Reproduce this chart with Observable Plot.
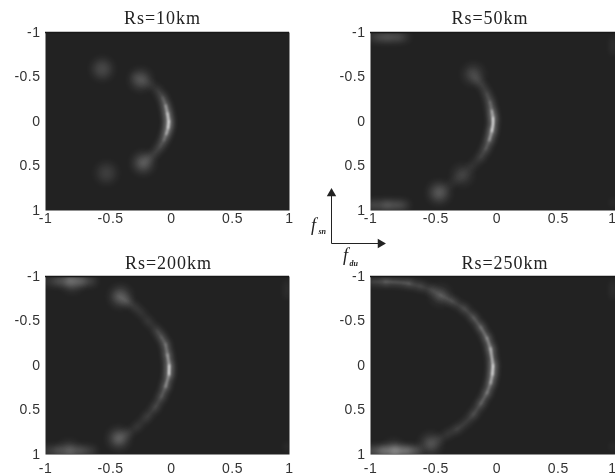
<!DOCTYPE html>
<html>
<head>
<meta charset="utf-8">
<script src="https://cdn.jsdelivr.net/npm/d3@7"></script>
<script src="https://cdn.jsdelivr.net/npm/@observablehq/plot@0.6"></script>
<style>
html,body{margin:0;padding:0;background:#fff;width:615px;height:475px;overflow:hidden}
#chart{position:relative;width:615px;height:475px}
#chart svg{position:absolute;background:transparent}
.ptitle text{letter-spacing:1px}
.ptick text{letter-spacing:.5px}
</style>
</head>
<body>
<div id="chart"></div>
<script>
const titles = ["Rs=10km", "Rs=50km", "Rs=200km", "Rs=250km"];
const midTicks = [-0.5, 0, 0.5];
const endTicks = [-1, 1];
const tickValues = [-1, -0.5, 0, 0.5, 1];

// Ridge: normalized frequency pair and brightness
const ridge10X = [-0.27,-0.2,-0.13,-0.08,-0.04,-0.015,0,0.01,0.005,-0.01,-0.03,-0.06,-0.1,-0.15,-0.2];
const ridge10Y = [-0.5,-0.46,-0.41,-0.35,-0.27,-0.18,-0.09,0,0.07,0.14,0.21,0.28,0.35,0.41,0.465];
const ridge10V = [0.15,0.12,0.14,0.32,0.55,0.8,0.95,1,0.85,0.6,0.42,0.3,0.22,0.16,0.18];
const blob10X = [-0.535,-0.22,-0.5,-0.2];
const blob10Y = [-0.59,-0.47,0.58,0.465];
const blob10V = [0.3,0.33,0.22,0.38];

const ridge50X = [-0.17,-0.13,-0.085,-0.05,-0.025,-0.01,0,0,-0.01,-0.03,-0.06,-0.1,-0.17,-0.25,-0.34,-0.44];
const ridge50Y = [-0.54,-0.47,-0.4,-0.31,-0.22,-0.12,-0.04,0.03,0.11,0.21,0.31,0.4,0.5,0.6,0.7,0.8];
const ridge50V = [0.2,0.24,0.28,0.42,0.6,0.85,1,1,0.8,0.5,0.35,0.22,0.08,0.12,0.06,0.15];
const blob50X = [-0.16,-0.25,-0.44];
const blob50Y = [-0.53,0.6,0.8];
const blob50V = [0.24,0.2,0.38];
const band50X = [-1,-0.93,-0.86,-0.78,-0.72];
const band50YTop = [-0.95,-0.95,-0.95,-0.95,-0.95];
const band50VTop = [0.1,0.15,0.17,0.1,0.03];
const band50YBottom = [0.94,0.94,0.94,0.94,0.94];
const band50VBottom = [0.2,0.2,0.17,0.12,0.05];

const ridge200X = [-0.4,-0.33,-0.27,-0.22,-0.16,-0.085,-0.05,-0.016,0,0.014,0.012,-0.016,-0.05,-0.1,-0.17,-0.25,-0.32,-0.4];
const ridge200Y = [-0.78,-0.72,-0.66,-0.6,-0.5,-0.39,-0.32,-0.24,-0.12,0,0.1,0.24,0.35,0.47,0.58,0.69,0.76,0.82];
const ridge200V = [0.35,0.25,0.2,0.18,0.22,0.4,0.5,0.65,0.8,1,0.75,0.5,0.38,0.3,0.22,0.18,0.2,0.28];
const blob200X = [-0.385,-0.4,-0.78,-0.81];
const blob200Y = [-0.775,0.82,-0.94,0.955];
const blob200V = [0.35,0.38,0.25,0.18];
const band200X = [-1,-0.9,-0.8,-0.7,-0.62];
const band200YTop = [-0.95,-0.95,-0.95,-0.95,-0.95];
const band200VTop = [0.1,0.18,0.22,0.15,0.03];
const band200YBottom = [0.96,0.96,0.96,0.96,0.96];
const band200VBottom = [0.14,0.15,0.18,0.13,0.03];

const ridge250X = [-0.99,-0.88,-0.78,-0.68,-0.59,-0.5,-0.43,-0.33,-0.235,-0.16,-0.1,-0.05,-0.02,0,-0.005,-0.02,-0.05,-0.1,-0.16,-0.235,-0.3,-0.37,-0.44,-0.51];
const ridge250Y = [-0.94,-0.94,-0.935,-0.92,-0.89,-0.85,-0.79,-0.72,-0.64,-0.54,-0.43,-0.31,-0.19,0,0.1,0.2,0.31,0.43,0.55,0.655,0.72,0.77,0.83,0.88];
const ridge250V = [0.4,0.5,0.5,0.36,0.3,0.33,0.42,0.35,0.38,0.5,0.62,0.72,0.9,1,0.85,0.65,0.55,0.42,0.35,0.35,0.22,0.18,0.15,0.2];
const blob250X = [-0.43,-0.51,-0.81];
const blob250Y = [-0.79,0.88,0.955];
const blob250V = [0.18,0.3,0.25];
const band250X = [-1,-0.9,-0.8,-0.7,-0.62];
const band250YBottom = [0.96,0.96,0.96,0.96,0.96];
const band250VBottom = [0.25,0.3,0.35,0.25,0.07];

const edgeX = [0.98,0.98];
const edgeY = [-0.93,0.93];
const edgeV = [0.12,0.12];

// Small f_sn / f_du orientation key
const keyX = [31,31,80];
const keyY = [8,58,58];
const keyLabelX = [13,45];
const keyLabelY = [40,70];
const keyLabels = ["f","f"];
const keySubX = [18,49];
const keySubY = [46,78];
const keySubs = ["sn","du"];

const rows = (xs, ys, vs) => xs.map((x, i) => ({x, y: ys[i], v: vs[i]}));

const panels = [
  {title: titles[0], left: 0, top: 0, ridge: rows(ridge10X, ridge10Y, ridge10V), blobs: rows(blob10X, blob10Y, blob10V), bands: [], edge: [], titleDx: -5, bottomRow: false},
  {title: titles[1], left: 307, top: 0, ridge: rows(ridge50X, ridge50Y, ridge50V), blobs: rows(blob50X, blob50Y, blob50V),
    bands: [rows(band50X, band50YTop, band50VTop), rows(band50X, band50YBottom, band50VBottom)], edge: rows(edgeX, edgeY, edgeV), titleDx: -3, bottomRow: false},
  {title: titles[2], left: 0, top: 237, ridge: rows(ridge200X, ridge200Y, ridge200V), blobs: rows(blob200X, blob200Y, blob200V),
    bands: [rows(band200X, band200YTop, band200VTop), rows(band200X, band200YBottom, band200VBottom)], edge: rows(edgeX, edgeY, edgeV), titleDx: 1, bottomRow: true},
  {title: titles[3], left: 307, top: 237, ridge: rows(ridge250X, ridge250Y, ridge250V), blobs: rows(blob250X, blob250Y, blob250V),
    bands: [rows(band250X, band250YBottom, band250VBottom)], edge: rows(edgeX, edgeY, edgeV), titleDx: 12, bottomRow: true}
];

const fmt = d => String(d);
const chart = document.getElementById("chart");

for (const p of panels) {
  const isRight = p.left > 0;
  const xAxisStyle = {className: "ptick", tickSize: 0, tickPadding: p.bottomRow ? 9 : 3, fontSize: 14, fill: "#333", tickFormat: fmt, label: null, imageFilter: "blur(0.4px)"};
  const svg = Plot.plot({
    width: isRight ? 308 : 307,
    height: p.bottomRow ? 238 : 237,
    marginLeft: isRight ? 63 : 45,
    marginRight: isRight ? 0 : 18,
    marginTop: p.bottomRow ? 39 : 32,
    marginBottom: p.bottomRow ? 21 : 27,
    x: {domain: [-1, 1], axis: null},
    y: {domain: [-1, 1], reverse: true, axis: null},
    opacity: {domain: [0, 1], range: [0, 1], clamp: true},
    style: {background: "transparent", fontFamily: "'Liberation Sans', sans-serif"},
    marks: [
      Plot.frame({fill: "#222222", stroke: "none"}),
      ...p.bands.map(b => Plot.line(b, {x: "x", y: "y", z: null, stroke: "#fff", strokeOpacity: "v", strokeWidth: 8, imageFilter: "blur(3.5px)", clip: true})),
      Plot.line(p.edge, {x: "x", y: "y", z: null, stroke: "#fff", strokeOpacity: "v", strokeWidth: 3, strokeDasharray: "14 148", imageFilter: "blur(3px)", clip: true}),
      Plot.dot(p.blobs, {x: "x", y: "y", r: 9, fill: "#fff", fillOpacity: d => d.v * 0.6, stroke: "none", imageFilter: "blur(4.5px)", clip: true}),
      Plot.line(p.ridge, {x: "x", y: "y", z: null, stroke: "#fff", strokeOpacity: d => d.v * 0.42, strokeWidth: 6, curve: "catmull-rom", imageFilter: "blur(3px)", clip: true}),
      Plot.line(p.ridge, {x: "x", y: "y", z: null, stroke: "#fff", strokeOpacity: d => d.v * d.v * d.v * 0.9, strokeWidth: 2, curve: "catmull-rom", imageFilter: "blur(0.9px)", clip: true}),
      Plot.ruleY([-1], {stroke: "#181818", strokeWidth: 1.5}),
      Plot.axisX(midTicks, {...xAxisStyle, dx: 4}),
      Plot.axisX(isRight ? [-1] : endTicks, xAxisStyle),
      isRight ? Plot.axisX([1], {...xAxisStyle, textAnchor: "end", dx: 1}) : null,
      Plot.axisY(tickValues, {className: "ptick", tickSize: 0, tickPadding: 5, fontSize: 14, fill: "#333", tickFormat: fmt, label: null, imageFilter: "blur(0.4px)"}),
      Plot.text([p.title], {className: "ptitle", frameAnchor: "top", dx: p.titleDx, dy: p.bottomRow ? -20 : -21, lineAnchor: "top", fontFamily: "'Liberation Serif', serif", fontSize: 18, fill: "#222", imageFilter: "blur(0.4px)"})
    ]
  });
  svg.style.left = p.left + "px";
  svg.style.top = p.top + "px";
  chart.appendChild(svg);
}

const key = Plot.plot({
  width: 100, height: 95, margin: 0,
  x: {domain: [0, 100], axis: null},
  y: {domain: [0, 95], reverse: true, axis: null},
  style: {background: "transparent"},
  marks: [
    Plot.line(rows(keyX, keyY, keyX), {x: "x", y: "y", stroke: "#222", strokeWidth: 1}),
    Plot.dot([{x: keyX[0], y: keyY[0]}], {x: "x", y: "y", symbol: "triangle", r: 3.5, fill: "#222", stroke: "none"}),
    Plot.dot([{x: keyX[2], y: keyY[2]}], {x: "x", y: "y", symbol: "triangle", r: 3.5, rotate: 90, fill: "#222", stroke: "none"}),
    Plot.text(keyLabels, {x: (d, i) => keyLabelX[i], y: (d, i) => keyLabelY[i], text: d => d, fontFamily: "'Liberation Serif', serif", fontStyle: "italic", fontSize: 18, fill: "#222", imageFilter: "blur(0.3px)"}),
    Plot.text(keySubs, {x: (d, i) => keySubX[i], y: (d, i) => keySubY[i], text: d => d, fontFamily: "'Liberation Serif', serif", fontStyle: "italic", fontWeight: "bold", fontSize: 8, fill: "#222", textAnchor: "start", imageFilter: "blur(0.3px)"})
  ]
});
key.style.left = "300px";
key.style.top = "185px";
chart.appendChild(key);
</script>
</body>
</html>
